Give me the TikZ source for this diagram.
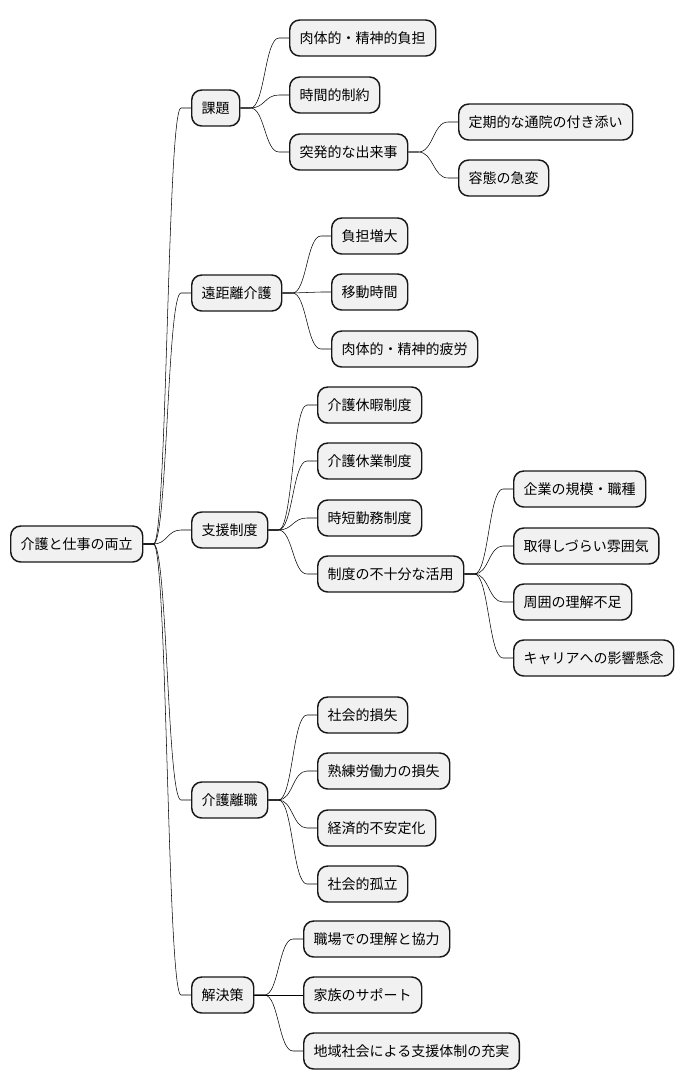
\documentclass[tikz,border=0pt]{standalone}
\usepackage{fontspec}
\setmainfont{Noto Sans CJK JP}
\usetikzlibrary{calc}
\definecolor{fond}{HTML}{F1F1F1}
\definecolor{trait}{HTML}{181818}

\begin{document}
\begin{tikzpicture}[x=0.75pt, y=-0.75pt]
	\tikzset{noeud/.style={draw=trait, fill=fond, line width=1.1pt, rounded corners=7.5pt, anchor=west,
			minimum height=27pt, inner xsep=7.5pt, inner ysep=0pt, font=\fontsize{10.5}{12}\selectfont},
		branche/.style={draw=trait, line width=0.75pt,
			to path={let \p1=(\tikztostart.east), \p2=(\tikztotarget.west) in
				(\p1) -- ({\x1+7.5pt},\y1) .. controls ({(\x1+\x2)/2},\y1) and ({(\x1+\x2)/2},\y2) .. ({\x2-7.5pt},\y2) -- (\p2)}}};
	\useasboundingbox (0,0) rectangle (684,1090);

	\node[noeud] (racine) at (10,544) {介護と仕事の両立};

	\foreach \nom/\y/\texte in {kadai/108/課題, enkyori/293/遠距離介護, shien/530/支援制度,
		rishoku/800/介護離職, kaiketsu/995/解決策}{
		\node[noeud] (\nom) at (191,\y) {\texte};
		\draw (racine) to[branche] (\nom);
	}

	%課題
	\foreach \nom/\y/\texte in {kadai1/38/肉体的・精神的負担, kadai2/95/時間的制約, kadai3/152/突発的な出来事}{
		\node[noeud] (\nom) at (289,\y) {\texte};
		\draw (kadai) to[branche] (\nom);
	}
	\foreach \nom/\y/\texte in {toppatsu1/122/定期的な通院の付き添い, toppatsu2/178/容態の急変}{
		\node[noeud] (\nom) at (458,\y) {\texte};
		\draw (kadai3) to[branche] (\nom);
	}

	% 遠距離介護
	\foreach \nom/\y/\texte in {enkyori1/236/負担増大, enkyori2/292/移動時間, enkyori3/349/肉体的・精神的疲労}{
		\node[noeud] (\nom) at (331,\y) {\texte};
		\draw (enkyori) to[branche] (\nom);
	}

	% 支援制度
	\foreach \nom/\y/\texte in {shien1/405/介護休暇制度, shien2/461/介護休業制度, shien3/518/時短勤務制度,
		shien4/574/制度の不十分な活用}{
		\node[noeud] (\nom) at (317,\y) {\texte};
		\draw (shien) to[branche] (\nom);
	}
	\foreach \nom/\y/\texte in {katsuyo1/489/企業の規模・職種, katsuyo2/546/取得しづらい雰囲気,
		katsuyo3/602/周囲の理解不足, katsuyo4/658/キャリアへの影響懸念}{
		\node[noeud] (\nom) at (513,\y) {\texte};
		\draw (shien4) to[branche] (\nom);
	}

	% 介護離職
	\foreach \nom/\y/\texte in {rishoku1/715/社会的損失, rishoku2/771/熟練労働力の損失, rishoku3/828/経済的不安定化,
		rishoku4/884/社会的孤立}{
		\node[noeud] (\nom) at (317,\y) {\texte};
		\draw (rishoku) to[branche] (\nom);
	}

	% 解決策
	\foreach \nom/\y/\texte in {kaiketsu1/939/職場での理解と協力, kaiketsu2/995/家族のサポート,
		kaiketsu3/1051/地域社会による支援体制の充実}{
		\node[noeud] (\nom) at (303,\y) {\texte};
		\draw (kaiketsu) to[branche] (\nom);
	}
\end{tikzpicture}
\end{document}
